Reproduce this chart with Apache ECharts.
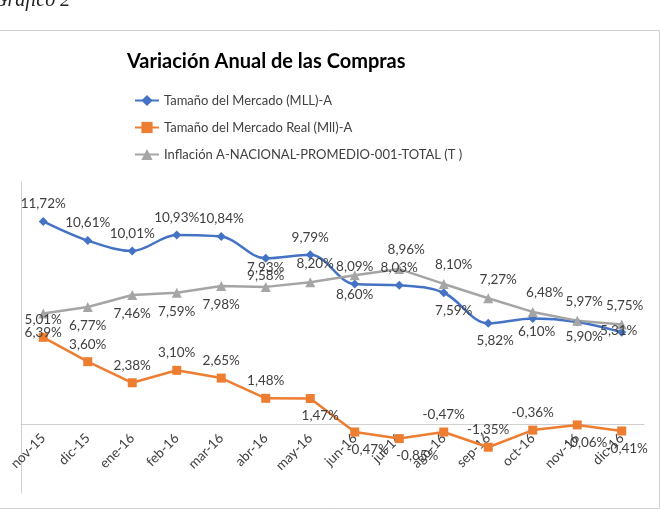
<!DOCTYPE html>
<html>
<head>
<meta charset="utf-8">
<script src="https://cdn.jsdelivr.net/npm/echarts@6/dist/echarts.min.js"></script>
<style>
  html, body { margin: 0; padding: 0; background: #fff; }
  #chart { width: 660px; height: 514px; }
</style>
</head>
<body>
<div id="chart"></div>
<script>
const meses = ['nov-15', 'dic-15', 'ene-16', 'feb-16', 'mar-16', 'abr-16', 'may-16', 'jun-16', 'jul-16', 'ago-16', 'sep-16', 'oct-16', 'nov-16', 'dic-16']
const mercado = [11.72, 10.61, 10.01, 10.93, 10.84, 9.58, 9.79, 8.09, 8.03, 7.59, 5.82, 6.10, 5.90, 5.31]
const mercadoReal = [5.01, 3.60, 2.38, 3.10, 2.65, 1.48, 1.47, -0.47, -0.85, -0.47, -1.35, -0.36, -0.06, -0.41]
const inflacion = [6.39, 6.77, 7.46, 7.59, 7.98, 7.93, 8.20, 8.60, 8.96, 8.10, 7.27, 6.48, 5.97, 5.75]

const FONT = 'Lato'
const TXT = '#404040'

// grid y escala (el eje de categorias va en el 0)
const GRID_TOP = 182
const GRID_BOTTOM = 21
const Y_MIN = -4
const Y_MAX = 14
const altoGrid = 514 - GRID_TOP - GRID_BOTTOM
const desplazaEje = -altoGrid * (0 - Y_MIN) / (Y_MAX - Y_MIN)

function pct (v) {
  return v.toFixed(2).replace('.', ',') + '%'
}

// etiquetas que en el original no van en la posicion por defecto
function puntos (vals, cambios) {
  return vals.map((v, i) => cambios[i] ? { value: v, label: cambios[i] } : v)
}

const etqMercado = {
  5: { position: 'bottom' },
  9: { position: 'bottom', offset: [10, 0] },
  10: { position: 'bottom', offset: [7, 0] },
  11: { position: 'bottom', offset: [4, -4] },
  12: { position: 'bottom', offset: [7, -3] },
  13: { position: 'inside', offset: [-3, -2] }
}
const etqReal = {
  6: { position: 'bottom', offset: [10, 0] },
  7: { position: 'bottom', offset: [13, 0] },
  8: { position: 'bottom', offset: [18, 0] },
  12: { position: 'bottom', offset: [9, 0] },
  13: { position: 'bottom', offset: [5, 0] }
}
const etqInflacion = {
  5: { position: 'top' },
  6: { position: 'top', offset: [5, 0] },
  8: { position: 'top', offset: [7, 0] },
  9: { position: 'top', offset: [10, 0] },
  10: { position: 'top', offset: [10, 0] },
  11: { position: 'top', offset: [12, 0] },
  12: { position: 'top', offset: [7, 0] },
  13: { position: 'top', offset: [3, 0] }
}

function etiqueta (pos, dist) {
  return {
    show: true,
    position: pos,
    distance: dist,
    formatter: p => pct(p.value),
    color: TXT,
    fontSize: 13.5,
    fontFamily: FONT
  }
}

const mychart = echarts.init(document.getElementById('chart'))
mychart.setOption({
  animation: false,
  textStyle: { fontFamily: FONT },
  color: ['#4472C4', '#ED7D31', '#A5A5A5'],
  title: {
    text: 'Variación Anual de las Compras',
    left: 122,
    top: 47,
    textStyle: {
      fontFamily: FONT,
      fontSize: 20,
      fontWeight: 'bold',
      color: '#000'
    }
  },
  legend: {
    orient: 'vertical',
    left: 129,
    top: 89,
    itemWidth: 24,
    itemHeight: 14,
    itemGap: 14,
    textStyle: { fontSize: 13, color: TXT, fontFamily: FONT }
  },
  graphic: [
    {
      type: 'rect',
      shape: { x: -5, y: 30.5, width: 664.5, height: 478 },
      style: { fill: 'none', stroke: '#d0d0d0', lineWidth: 1 },
      silent: true
    },
    {
      type: 'text',
      left: -7,
      top: -9,
      style: {
        text: 'Gráfico 2',
        font: 'italic 20px "Liberation Serif"',
        fill: '#222'
      },
      silent: true
    }
  ],
  grid: {
    left: 21,
    right: 16,
    top: GRID_TOP,
    bottom: GRID_BOTTOM,
    containLabel: false,
    outerBoundsMode: 'none'
  },
  xAxis: {
    type: 'category',
    data: meses,
    offset: desplazaEje,
    axisLine: { onZero: false, lineStyle: { color: '#d0d0d0', width: 1 } },
    axisTick: { show: false },
    axisLabel: {
      rotate: 45,
      interval: 0,
      margin: 12,
      fontSize: 13.5,
      color: TXT,
      fontFamily: FONT
    }
  },
  yAxis: {
    type: 'value',
    min: Y_MIN,
    max: Y_MAX,
    interval: 2,
    axisLine: { show: true, lineStyle: { color: '#d0d0d0', width: 1 } },
    axisTick: { show: false },
    axisLabel: { show: false },
    splitLine: { show: false }
  },
  series: [
    {
      name: 'Tamaño del Mercado (MLL)-A',
      type: 'line',
      smooth: 0.35,
      symbol: 'diamond',
      symbolSize: 9,
      lineStyle: { width: 2.5 },
      label: etiqueta('top', 6),
      data: puntos(mercado, etqMercado)
    },
    {
      name: 'Tamaño del Mercado Real (Mll)-A',
      type: 'line',
      symbol: 'rect',
      symbolSize: 9,
      lineStyle: { width: 2.5 },
      label: etiqueta('top', 6),
      data: puntos(mercadoReal, etqReal)
    },
    {
      name: 'Inflación A-NACIONAL-PROMEDIO-001-TOTAL (T )',
      type: 'line',
      symbol: 'triangle',
      symbolSize: 10,
      lineStyle: { width: 2.5 },
      label: etiqueta('bottom', 7),
      data: puntos(inflacion, etqInflacion)
    }
  ]
})
</script>
</body>
</html>
